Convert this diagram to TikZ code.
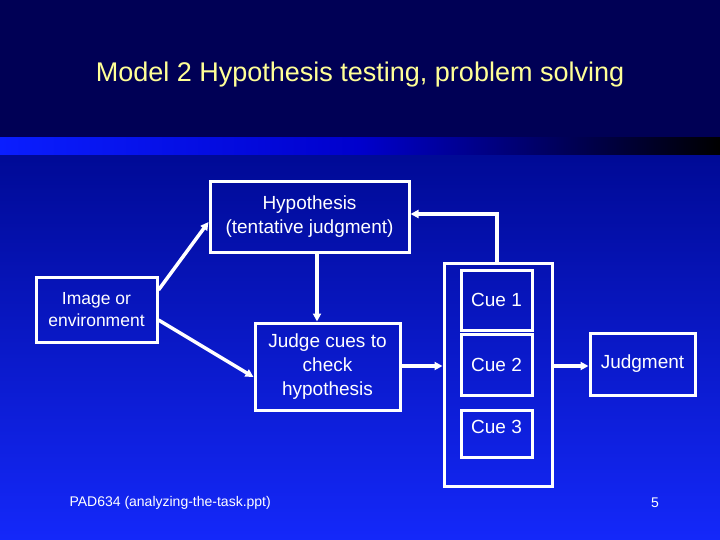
\documentclass[tikz,border=0pt]{standalone}
\usepackage{fontspec}
\setmainfont{Liberation Sans}
\usetikzlibrary{arrows.meta}
\definecolor{navy}{RGB}{0,0,85}
\definecolor{bandblue}{RGB}{10,30,255}
\definecolor{lowblue}{RGB}{0,10,150}
\definecolor{botblue}{RGB}{20,40,250}
\definecolor{titleyellow}{RGB}{255,255,150}
\tikzset{
  box/.style={draw=white, line width=3pt, fill=none, text=white, align=center, inner sep=0pt},
  link/.style={draw=white, line width=3.5pt, -{Triangle[length=8pt,width=8pt]}},
  boxtext/.style={font=\fontsize{19}{24}\selectfont}
}
\begin{document}
\begin{tikzpicture}[x=1pt,y=-1pt]
% background
\fill[navy] (0,0) rectangle (720,138);
\shade[left color=bandblue, right color=black, middle color=blue!80!black] (0,138) rectangle (720,156);
\shade[top color=lowblue, bottom color=botblue] (0,156) rectangle (720,540);
\useasboundingbox (0,0) rectangle (720,540);
% title
\node[text=titleyellow, font=\fontsize{27}{30}\selectfont] (title) at (360,75) {Model 2 Hypothesis testing, problem solving};
% boxes
\node[box, boxtext, minimum width=199pt, minimum height=70pt] (hyp) at (309.5,217) {Hypothesis\\(tentative judgment)};
\node[box, font=\fontsize{17.5}{22}\selectfont, minimum width=121pt, minimum height=65pt] (img) at (96.5,309.5) {Image or\\environment};
\node[box, boxtext, minimum width=145pt, minimum height=87pt] (judge) at (327.5,366.5) {Judge cues to\\check\\hypothesis};
\node[box, minimum width=108pt, minimum height=223pt] (cues) at (498,374.5) {};
\node[box, boxtext, minimum width=71pt, minimum height=60pt] (cue1) at (496.5,300) {Cue 1};
\node[box, boxtext, minimum width=71pt, minimum height=61pt] (cue2) at (496.5,364.5) {Cue 2};
\node[box, minimum width=71pt, minimum height=47pt] (cue3) at (496.5,433.5) {};
\node[text=white, boxtext] (cue3lbl) at (496.5,427) {Cue 3};
\node[box, boxtext, minimum width=105pt, minimum height=62pt] (judgment) at (642.5,364) {Judgment};
% connectors
\draw[link] (img.east |- 0,290) -- (hyp.west |- 0,222);
\draw[link] (img.east |- 0,320) -- (judge.west |- 0,377);
\draw[link] (hyp.south -| 317,0) -- (judge.north -| 317,0);
\draw[link] (judge.east |- 0,366) -- (cues.west |- 0,366);
\draw[link] (cues.east |- 0,366) -- (judgment.west |- 0,366);
\draw[link] (cues.north -| 497,0) -- (497,214) -- (hyp.east |- 0,214);
% footer
\node[text=white, font=\fontsize{14}{16}\selectfont, anchor=west] (src) at (66,503) {PAD634 (analyzing-the-task.ppt)};
\node[text=white, font=\fontsize{14}{16}\selectfont] (page) at (655,503) {5};
\end{tikzpicture}
\end{document}
